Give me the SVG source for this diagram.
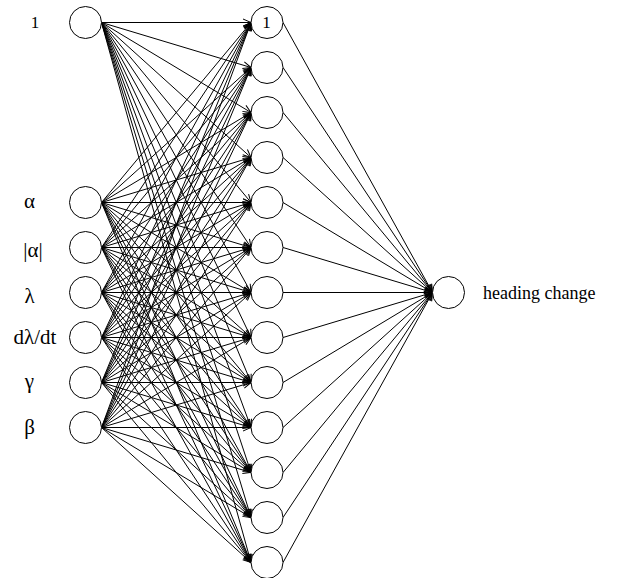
<svg xmlns="http://www.w3.org/2000/svg" width="623" height="578" viewBox="0 0 623 578">
<style>
.n{fill:#fff;stroke:#000;stroke-width:1}
.e line{stroke:#000;stroke-width:1;marker-end:url(#ah)}
</style>
<defs>
<marker id="ah" markerUnits="userSpaceOnUse" markerWidth="12" markerHeight="10" refX="10" refY="5" orient="auto" viewBox="0 0 12 10">
<path d="M2,1.5 L10,5 L2,8.5" fill="none" stroke="#000" stroke-width="1"/>
</marker>
</defs>
<rect width="623" height="578" fill="#fff"/>
<g id="connectors" class="e">
<line x1="101.5" y1="22.5" x2="251" y2="22.5"/><line x1="101.5" y1="22.5" x2="251" y2="67.5"/><line x1="101.5" y1="22.5" x2="251" y2="112.5"/><line x1="101.5" y1="22.5" x2="251" y2="157.5"/><line x1="101.5" y1="22.5" x2="251" y2="202.5"/><line x1="101.5" y1="22.5" x2="251" y2="247.5"/><line x1="101.5" y1="22.5" x2="251" y2="292.5"/><line x1="101.5" y1="22.5" x2="251" y2="337.5"/><line x1="101.5" y1="22.5" x2="251" y2="382.5"/><line x1="101.5" y1="22.5" x2="251" y2="427.5"/><line x1="101.5" y1="22.5" x2="251" y2="472.5"/><line x1="101.5" y1="22.5" x2="251" y2="517.5"/><line x1="101.5" y1="22.5" x2="251" y2="562.5"/>
<line x1="101.5" y1="202.5" x2="251" y2="22.5"/><line x1="101.5" y1="202.5" x2="251" y2="67.5"/><line x1="101.5" y1="202.5" x2="251" y2="112.5"/><line x1="101.5" y1="202.5" x2="251" y2="157.5"/><line x1="101.5" y1="202.5" x2="251" y2="202.5"/><line x1="101.5" y1="202.5" x2="251" y2="247.5"/><line x1="101.5" y1="202.5" x2="251" y2="292.5"/><line x1="101.5" y1="202.5" x2="251" y2="337.5"/><line x1="101.5" y1="202.5" x2="251" y2="382.5"/><line x1="101.5" y1="202.5" x2="251" y2="427.5"/><line x1="101.5" y1="202.5" x2="251" y2="472.5"/><line x1="101.5" y1="202.5" x2="251" y2="517.5"/><line x1="101.5" y1="202.5" x2="251" y2="562.5"/>
<line x1="101.5" y1="247.5" x2="251" y2="22.5"/><line x1="101.5" y1="247.5" x2="251" y2="67.5"/><line x1="101.5" y1="247.5" x2="251" y2="112.5"/><line x1="101.5" y1="247.5" x2="251" y2="157.5"/><line x1="101.5" y1="247.5" x2="251" y2="202.5"/><line x1="101.5" y1="247.5" x2="251" y2="247.5"/><line x1="101.5" y1="247.5" x2="251" y2="292.5"/><line x1="101.5" y1="247.5" x2="251" y2="337.5"/><line x1="101.5" y1="247.5" x2="251" y2="382.5"/><line x1="101.5" y1="247.5" x2="251" y2="427.5"/><line x1="101.5" y1="247.5" x2="251" y2="472.5"/><line x1="101.5" y1="247.5" x2="251" y2="517.5"/><line x1="101.5" y1="247.5" x2="251" y2="562.5"/>
<line x1="101.5" y1="292.5" x2="251" y2="22.5"/><line x1="101.5" y1="292.5" x2="251" y2="67.5"/><line x1="101.5" y1="292.5" x2="251" y2="112.5"/><line x1="101.5" y1="292.5" x2="251" y2="157.5"/><line x1="101.5" y1="292.5" x2="251" y2="202.5"/><line x1="101.5" y1="292.5" x2="251" y2="247.5"/><line x1="101.5" y1="292.5" x2="251" y2="292.5"/><line x1="101.5" y1="292.5" x2="251" y2="337.5"/><line x1="101.5" y1="292.5" x2="251" y2="382.5"/><line x1="101.5" y1="292.5" x2="251" y2="427.5"/><line x1="101.5" y1="292.5" x2="251" y2="472.5"/><line x1="101.5" y1="292.5" x2="251" y2="517.5"/><line x1="101.5" y1="292.5" x2="251" y2="562.5"/>
<line x1="101.5" y1="337.5" x2="251" y2="22.5"/><line x1="101.5" y1="337.5" x2="251" y2="67.5"/><line x1="101.5" y1="337.5" x2="251" y2="112.5"/><line x1="101.5" y1="337.5" x2="251" y2="157.5"/><line x1="101.5" y1="337.5" x2="251" y2="202.5"/><line x1="101.5" y1="337.5" x2="251" y2="247.5"/><line x1="101.5" y1="337.5" x2="251" y2="292.5"/><line x1="101.5" y1="337.5" x2="251" y2="337.5"/><line x1="101.5" y1="337.5" x2="251" y2="382.5"/><line x1="101.5" y1="337.5" x2="251" y2="427.5"/><line x1="101.5" y1="337.5" x2="251" y2="472.5"/><line x1="101.5" y1="337.5" x2="251" y2="517.5"/><line x1="101.5" y1="337.5" x2="251" y2="562.5"/>
<line x1="101.5" y1="382.5" x2="251" y2="22.5"/><line x1="101.5" y1="382.5" x2="251" y2="67.5"/><line x1="101.5" y1="382.5" x2="251" y2="112.5"/><line x1="101.5" y1="382.5" x2="251" y2="157.5"/><line x1="101.5" y1="382.5" x2="251" y2="202.5"/><line x1="101.5" y1="382.5" x2="251" y2="247.5"/><line x1="101.5" y1="382.5" x2="251" y2="292.5"/><line x1="101.5" y1="382.5" x2="251" y2="337.5"/><line x1="101.5" y1="382.5" x2="251" y2="382.5"/><line x1="101.5" y1="382.5" x2="251" y2="427.5"/><line x1="101.5" y1="382.5" x2="251" y2="472.5"/><line x1="101.5" y1="382.5" x2="251" y2="517.5"/><line x1="101.5" y1="382.5" x2="251" y2="562.5"/>
<line x1="101.5" y1="427.5" x2="251" y2="22.5"/><line x1="101.5" y1="427.5" x2="251" y2="67.5"/><line x1="101.5" y1="427.5" x2="251" y2="112.5"/><line x1="101.5" y1="427.5" x2="251" y2="157.5"/><line x1="101.5" y1="427.5" x2="251" y2="202.5"/><line x1="101.5" y1="427.5" x2="251" y2="247.5"/><line x1="101.5" y1="427.5" x2="251" y2="292.5"/><line x1="101.5" y1="427.5" x2="251" y2="337.5"/><line x1="101.5" y1="427.5" x2="251" y2="382.5"/><line x1="101.5" y1="427.5" x2="251" y2="427.5"/><line x1="101.5" y1="427.5" x2="251" y2="472.5"/><line x1="101.5" y1="427.5" x2="251" y2="517.5"/><line x1="101.5" y1="427.5" x2="251" y2="562.5"/>
<line x1="283" y1="22.5" x2="432.5" y2="292.5"/><line x1="283" y1="67.5" x2="432.5" y2="292.5"/><line x1="283" y1="112.5" x2="432.5" y2="292.5"/><line x1="283" y1="157.5" x2="432.5" y2="292.5"/><line x1="283" y1="202.5" x2="432.5" y2="292.5"/><line x1="283" y1="247.5" x2="432.5" y2="292.5"/><line x1="283" y1="292.5" x2="432.5" y2="292.5"/><line x1="283" y1="337.5" x2="432.5" y2="292.5"/><line x1="283" y1="382.5" x2="432.5" y2="292.5"/><line x1="283" y1="427.5" x2="432.5" y2="292.5"/><line x1="283" y1="472.5" x2="432.5" y2="292.5"/><line x1="283" y1="517.5" x2="432.5" y2="292.5"/><line x1="283" y1="562.5" x2="432.5" y2="292.5"/>
</g>
<g font-family="Liberation Serif, serif" fill="#000">
<g id="in-bias"><circle class="n" cx="85.5" cy="22.5" r="16"/><text x="35" y="28" font-size="17" text-anchor="middle">1</text></g>
<g id="in-alpha"><circle class="n" cx="85.5" cy="202.5" r="16"/><text x="29.5" y="208" font-size="21" text-anchor="middle">α</text></g>
<g id="in-absalpha"><circle class="n" cx="85.5" cy="247.5" r="16"/><text x="33" y="257" font-size="21" text-anchor="middle">|α|</text></g>
<g id="in-lambda"><circle class="n" cx="85.5" cy="292.5" r="16"/><text x="29.5" y="303" font-size="21" text-anchor="middle">λ</text></g>
<g id="in-dlambda"><circle class="n" cx="85.5" cy="337.5" r="16"/><text x="35" y="344" font-size="21" text-anchor="middle">dλ/dt</text></g>
<g id="in-gamma"><circle class="n" cx="85.5" cy="382.5" r="16"/><text x="29.5" y="388" font-size="21" text-anchor="middle">γ</text></g>
<g id="in-beta"><circle class="n" cx="85.5" cy="427.5" r="16"/><text x="29.5" y="434" font-size="21" text-anchor="middle">β</text></g>
<g id="h1"><circle class="n" cx="267" cy="22.5" r="16"/><text x="266.5" y="28" font-size="17" text-anchor="middle">1</text></g>
<g id="h2"><circle class="n" cx="267" cy="67.5" r="16"/></g>
<g id="h3"><circle class="n" cx="267" cy="112.5" r="16"/></g>
<g id="h4"><circle class="n" cx="267" cy="157.5" r="16"/></g>
<g id="h5"><circle class="n" cx="267" cy="202.5" r="16"/></g>
<g id="h6"><circle class="n" cx="267" cy="247.5" r="16"/></g>
<g id="h7"><circle class="n" cx="267" cy="292.5" r="16"/></g>
<g id="h8"><circle class="n" cx="267" cy="337.5" r="16"/></g>
<g id="h9"><circle class="n" cx="267" cy="382.5" r="16"/></g>
<g id="h10"><circle class="n" cx="267" cy="427.5" r="16"/></g>
<g id="h11"><circle class="n" cx="267" cy="472.5" r="16"/></g>
<g id="h12"><circle class="n" cx="267" cy="517.5" r="16"/></g>
<g id="h13"><circle class="n" cx="267" cy="562.5" r="16"/></g>
<g id="out"><circle class="n" cx="448.5" cy="292.5" r="16"/><text x="483" y="299" font-size="18">heading change</text></g>
</g>
</svg>
